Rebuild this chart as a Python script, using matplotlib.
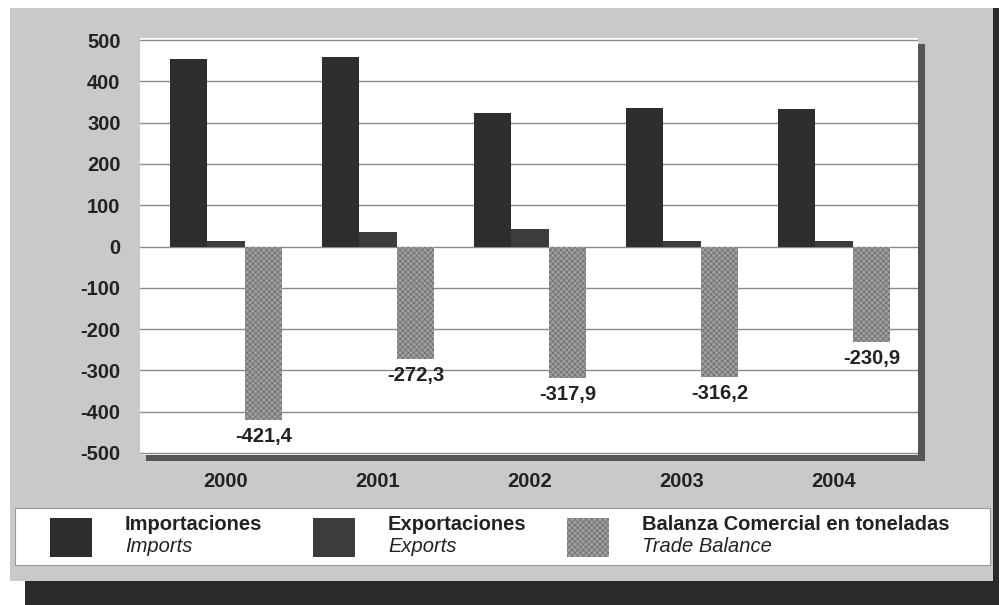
import matplotlib.pyplot as plt
from matplotlib.patches import Rectangle
import numpy as np

plt.rcParams['font.family'] = ['Liberation Sans', 'DejaVu Sans']
plt.rcParams['axes.unicode_minus'] = False
plt.rcParams['hatch.linewidth'] = 0.6

years = ['2000', '2001', '2002', '2003', '2004']
importaciones = [453, 460, 323, 335, 332]
exportaciones = [14, 34, 43, 14, 14]
balanza = [-421.4, -272.3, -317.9, -316.2, -230.9]
y_ticks = [-500, -400, -300, -200, -100, 0, 100, 200, 300, 400, 500]

W, H = 999, 605
fig = plt.figure(figsize=(W / 100, H / 100), dpi=100)
fig.patch.set_facecolor('white')


def box(x0, y0, x1, y1, **kw):
    # pixel coords (top-left origin) -> figure rectangle
    fig.patches.append(Rectangle((x0 / W, 1 - y1 / H), (x1 - x0) / W, (y1 - y0) / H,
                                 transform=fig.transFigure, **kw))


# panel with dark shadow right/bottom
box(25, 8, 999, 605, facecolor='#2a2a2a', edgecolor='none', zorder=0)
box(10, 8, 993, 581, facecolor='#c9c9c9', edgecolor='none', zorder=0.1)
# plot area shadow
box(146, 44, 925, 461, facecolor='#555555', edgecolor='none', zorder=0.2)
# legend box
box(15, 508, 990, 565, facecolor='white', edgecolor='#9a9a9a', linewidth=0.8, zorder=0.2)

ax = fig.add_axes([140 / W, 1 - 455 / H, (918 - 140) / W, (455 - 38) / H])
ax.set_facecolor('white')
ax.set_zorder(1)

x = np.arange(len(years))
w = 0.247
b1 = ax.bar(x - w, importaciones, w, color='#2e2e2e', zorder=3)
b2 = ax.bar(x, exportaciones, w, color='#3c3c3c', zorder=3)
b3 = ax.bar(x + w, balanza, w, color='#a0a0a0', edgecolor='#707070',
            hatch='xxxxxx', linewidth=0, zorder=3)

ax.bar_label(b3, labels=[f'{v:.1f}'.replace('.', ',') for v in balanza],
             padding=5, fontsize=14.5, fontweight='bold', color='#222222')

ax.set_xlim(-0.566, 4.553)
ax.set_ylim(-505, 505)
ax.set_yticks(y_ticks)
ax.set_xticks(x)
ax.set_xticklabels(years)
ax.tick_params(length=0, labelsize=14.5, labelcolor='#222222')
ax.tick_params(axis='y', pad=14)
ax.tick_params(axis='x', pad=12)
for lbl in ax.get_xticklabels() + ax.get_yticklabels():
    lbl.set_fontweight('bold')
ax.grid(axis='y', color='#8a8a8a', linewidth=1, zorder=0)
for s in ax.spines.values():
    s.set_visible(False)

# legend
legend_items = [
    (50, '#2e2e2e', None, 'Importaciones', 'Imports'),
    (313, '#3c3c3c', None, 'Exportaciones', 'Exports'),
    (567, '#a0a0a0', 'xxxxxx', 'Balanza Comercial en toneladas', 'Trade Balance'),
]
for x0, col, hatch, es, en in legend_items:
    box(x0, 518, x0 + 42, 557, facecolor=col, edgecolor='#707070' if hatch else 'none',
        hatch=hatch, linewidth=0, zorder=2)
    tx = x0 + 75
    fig.text(tx / W, 1 - 524 / H, es, fontsize=14.5, fontweight='bold',
             color='#222222', va='center', ha='left')
    fig.text(tx / W, 1 - 547 / H, en, fontsize=14.5, style='italic',
             color='#222222', va='center', ha='left')

fig.savefig('out.png', dpi=100)
